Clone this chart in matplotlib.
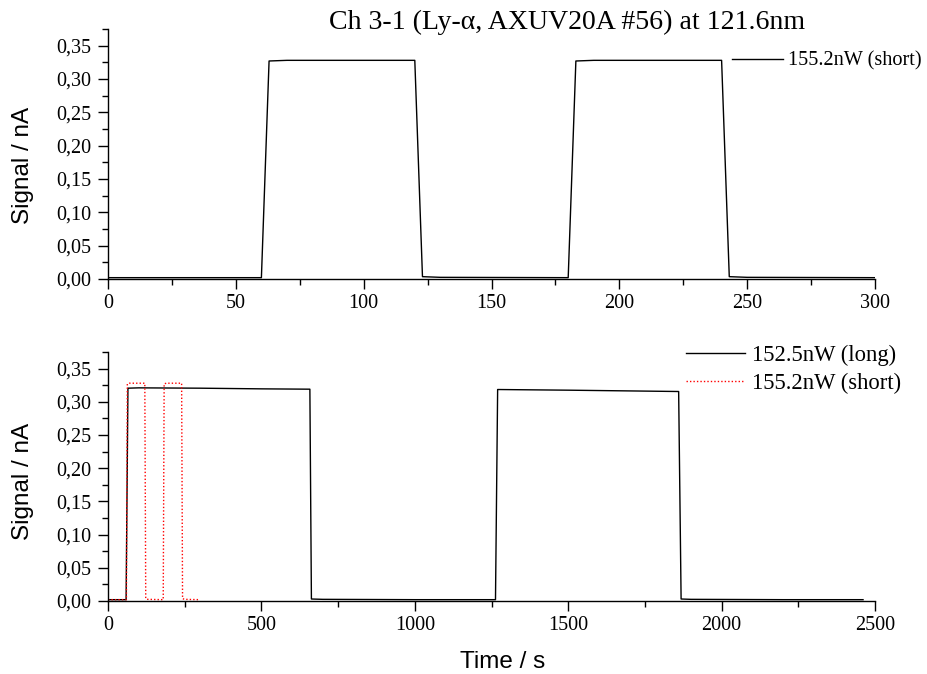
import matplotlib
matplotlib.use("Agg")
import matplotlib.pyplot as plt
from matplotlib.ticker import MultipleLocator, FuncFormatter


# short measurement, 155.2 nW, 60 s on / 60 s off
t_short = [0, 60, 63, 70, 120, 123, 130, 180, 183, 190, 240, 243, 250, 300]
s_short = [0.002, 0.002, 0.327, 0.328, 0.328, 0.0035, 0.0025, 0.002,
           0.327, 0.328, 0.328, 0.0035, 0.0025, 0.002]

# long measurement, 152.5 nW, 600 s on / 600 s off
t_long = [0, 59, 65, 100, 300, 500, 658, 663, 700, 1000, 1263, 1270,
          1500, 1860, 1868, 1900, 2200, 2461]
s_long = [0.002, 0.002, 0.3205, 0.321, 0.3205, 0.3195, 0.319, 0.003,
          0.0025, 0.002, 0.002, 0.3185, 0.3175, 0.3155, 0.003, 0.0025,
          0.002, 0.002]

lbl_short = "155.2nW (short)"
lbl_long = "152.5nW (long)"
titel = "Ch 3-1 (Ly-\u03b1, AXUV20A #56) at 121.6nm"

serif = "Liberation Serif"
sans = "Liberation Sans"

W, H = 927, 674
fig = plt.figure(figsize=(W / 100, H / 100), dpi=100)


def box(l, r, t, b):
    return [l / W, 1 - b / H, (r - l) / W, (b - t) / H]


def komma(v, pos):
    return f"{v:.2f}".replace(".", ",")


def achsen(ax, xmax, xmaj, xmin):
    ax.set_xlim(0, xmax)
    ax.set_ylim(0, 0.375)
    ax.spines["top"].set_visible(False)
    ax.spines["right"].set_visible(False)
    for s in ("left", "bottom"):
        ax.spines[s].set_linewidth(1.0)
    ax.xaxis.set_major_locator(MultipleLocator(xmaj))
    ax.xaxis.set_minor_locator(MultipleLocator(xmin))
    ax.yaxis.set_major_locator(MultipleLocator(0.05))
    ax.yaxis.set_minor_locator(MultipleLocator(0.025))
    ax.yaxis.set_major_formatter(FuncFormatter(komma))
    ax.tick_params(which="major", direction="out", length=7, width=1.0,
                   labelsize=14.5)
    ax.tick_params(which="minor", direction="out", length=4, width=1.0)
    ax.tick_params(axis="x", which="major", pad=3.5)
    ax.tick_params(axis="y", which="major", pad=5.0)
    for t in ax.get_xticklabels() + ax.get_yticklabels():
        t.set_fontfamily(serif)
    ax.set_ylabel("Signal / nA", fontsize=17.5, fontfamily=sans)


# oben: nur die kurze Messung
ax1 = fig.add_axes(box(108, 875, 29, 279))
ax1.plot(t_short, s_short, "k-", lw=1.0)
achsen(ax1, 300, 50, 25)
ax1.yaxis.set_label_coords(-0.096, 0.455)
ax1.legend([lbl_short], loc="center left",
           bbox_to_anchor=(732 / W, 1 - 61 / H), bbox_transform=fig.transFigure,
           frameon=False, borderpad=0, borderaxespad=0, handlelength=2.5,
           handletextpad=0.25, prop={"family": serif, "size": 14.6})

# unten: lange Messung mit kurzer zum Vergleich
ax2 = fig.add_axes(box(108, 875, 352, 601))
ax2.plot(t_long, s_long, "k-", lw=1.0, label=lbl_long)
ax2.plot(t_short, s_short, color="red", ls=(0, (1, 1.5)), lw=1.0,
         label=lbl_short)
achsen(ax2, 2500, 500, 250)
ax2.yaxis.set_label_coords(-0.096, 0.48)
ax2.set_xlabel("Time / s", fontsize=17.5, fontfamily=sans)
ax2.xaxis.set_label_coords(0.515, -0.2)
ax2.legend(loc="center left",
           bbox_to_anchor=(686 / W, 1 - 369.5 / H), bbox_transform=fig.transFigure,
           frameon=False, borderpad=0, borderaxespad=0, handlelength=2.6,
           handletextpad=0.3, labelspacing=0.32,
           prop={"family": serif, "size": 16.3})

fig.text(567 / W, 1 - 29 / H, titel, ha="center", va="baseline",
         fontsize=20.1, fontfamily=serif)

fig.savefig("out.png", dpi=100)
